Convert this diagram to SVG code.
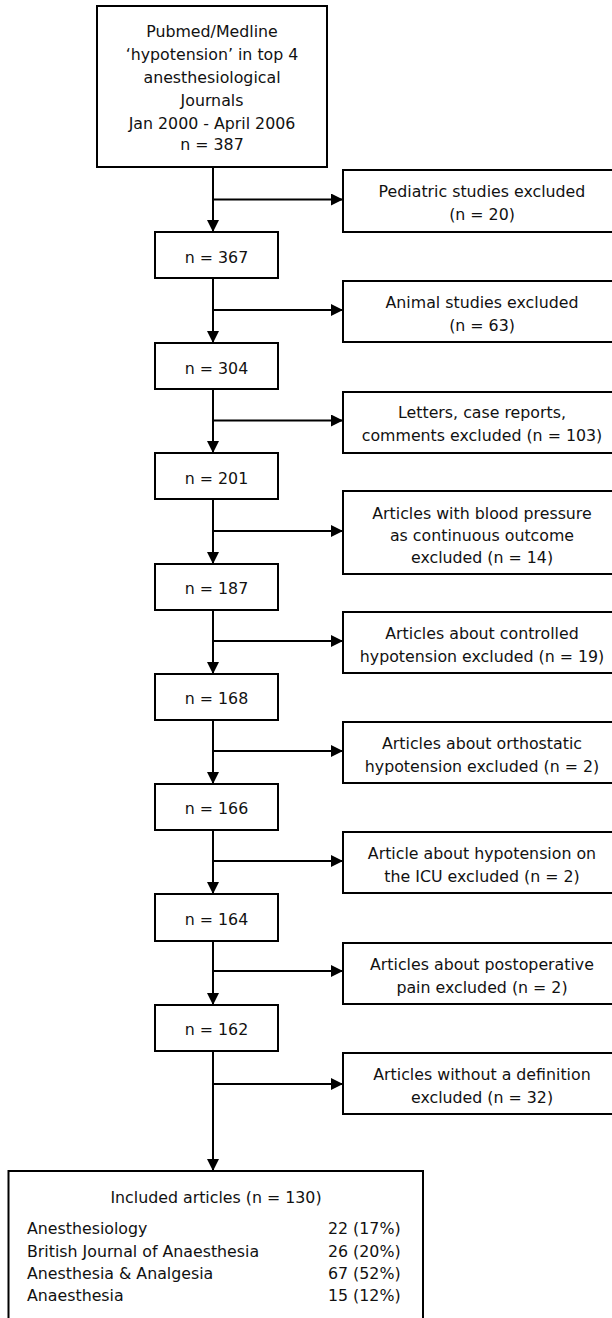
<svg xmlns="http://www.w3.org/2000/svg" width="612" height="1318" viewBox="0 0 612 1318">
<style>
.box{fill:#fff;stroke:#000;stroke-width:2}
.t{font-family:"DejaVu Sans",sans-serif;font-size:15.8px;fill:#111;text-anchor:middle}
.l{font-family:"DejaVu Sans",sans-serif;font-size:15.8px;fill:#111;text-anchor:start}
.c{fill:none;stroke:#000;stroke-width:2}
</style>
<defs>
<marker id="ah" markerUnits="userSpaceOnUse" markerWidth="12" markerHeight="12" refX="12" refY="6" orient="auto">
<path d="M0,0 L12,6 L0,12 z" fill="#000"/>
</marker>
</defs>
<rect width="612" height="1318" fill="#fff"/>
<g id="connectors">
<line class="c" x1="213" y1="167" x2="213" y2="232" marker-end="url(#ah)"/>
<line class="c" x1="213" y1="199.5" x2="343" y2="199.5" marker-end="url(#ah)"/>
<line class="c" x1="213" y1="278" x2="213" y2="343" marker-end="url(#ah)"/>
<line class="c" x1="213" y1="310" x2="343" y2="310" marker-end="url(#ah)"/>
<line class="c" x1="213" y1="388" x2="213" y2="453" marker-end="url(#ah)"/>
<line class="c" x1="213" y1="420.5" x2="343" y2="420.5" marker-end="url(#ah)"/>
<line class="c" x1="213" y1="499" x2="213" y2="564" marker-end="url(#ah)"/>
<line class="c" x1="213" y1="531" x2="343" y2="531" marker-end="url(#ah)"/>
<line class="c" x1="213" y1="609" x2="213" y2="674" marker-end="url(#ah)"/>
<line class="c" x1="213" y1="641" x2="343" y2="641" marker-end="url(#ah)"/>
<line class="c" x1="213" y1="720" x2="213" y2="784" marker-end="url(#ah)"/>
<line class="c" x1="213" y1="751" x2="343" y2="751" marker-end="url(#ah)"/>
<line class="c" x1="213" y1="830" x2="213" y2="894" marker-end="url(#ah)"/>
<line class="c" x1="213" y1="861" x2="343" y2="861" marker-end="url(#ah)"/>
<line class="c" x1="213" y1="941" x2="213" y2="1005" marker-end="url(#ah)"/>
<line class="c" x1="213" y1="971" x2="343" y2="971" marker-end="url(#ah)"/>
<line class="c" x1="213" y1="1051" x2="213" y2="1171" marker-end="url(#ah)"/>
<line class="c" x1="213" y1="1084" x2="343" y2="1084" marker-end="url(#ah)"/>
</g>
<g id="source">
<rect class="box" x="97" y="6" width="230" height="161"/>
<text class="t" x="212" y="37">Pubmed/Medline</text>
<text class="t" x="212" y="60">‘hypotension’ in top 4</text>
<text class="t" x="212" y="83">anesthesiological</text>
<text class="t" x="212" y="106">Journals</text>
<text class="t" x="212" y="128.5">Jan 2000 - April 2006</text>
<text class="t" x="212" y="150">n = 387</text>
</g>
<g id="n367"><rect class="box" x="155" y="232" width="123" height="46"/><text class="t" x="216.5" y="262.5">n = 367</text></g>
<g id="n304"><rect class="box" x="155" y="343" width="123" height="46"/><text class="t" x="216.5" y="373.5">n = 304</text></g>
<g id="n201"><rect class="box" x="155" y="453" width="123" height="46"/><text class="t" x="216.5" y="483.5">n = 201</text></g>
<g id="n187"><rect class="box" x="155" y="564" width="123" height="46"/><text class="t" x="216.5" y="594">n = 187</text></g>
<g id="n168"><rect class="box" x="155" y="674" width="123" height="46"/><text class="t" x="216.5" y="704">n = 168</text></g>
<g id="n166"><rect class="box" x="155" y="784" width="123" height="46"/><text class="t" x="216.5" y="814">n = 166</text></g>
<g id="n164"><rect class="box" x="155" y="894" width="123" height="47"/><text class="t" x="216.5" y="924.5">n = 164</text></g>
<g id="n162"><rect class="box" x="155" y="1005" width="123" height="46"/><text class="t" x="216.5" y="1035">n = 162</text></g>
<g id="ex-pediatric"><rect class="box" x="343" y="170" width="280" height="62"/>
<text class="t" x="482" y="197">Pediatric studies excluded</text><text class="t" x="482" y="220">(n = 20)</text></g>
<g id="ex-animal"><rect class="box" x="343" y="281" width="280" height="61"/>
<text class="t" x="482" y="308">Animal studies excluded</text><text class="t" x="482" y="331">(n = 63)</text></g>
<g id="ex-letters"><rect class="box" x="343" y="392" width="280" height="61"/>
<text class="t" x="482" y="418">Letters, case reports,</text><text class="t" x="482" y="441">comments excluded (n = 103)</text></g>
<g id="ex-bp"><rect class="box" x="343" y="491" width="280" height="83"/>
<text class="t" x="482" y="518.5">Articles with blood pressure</text><text class="t" x="482" y="541">as continuous outcome</text><text class="t" x="482" y="563">excluded (n = 14)</text></g>
<g id="ex-controlled"><rect class="box" x="343" y="612" width="280" height="61"/>
<text class="t" x="482" y="639">Articles about controlled</text><text class="t" x="482" y="661.5">hypotension excluded (n = 19)</text></g>
<g id="ex-orthostatic"><rect class="box" x="343" y="722" width="280" height="61"/>
<text class="t" x="482" y="749">Articles about orthostatic</text><text class="t" x="482" y="771.5">hypotension excluded (n = 2)</text></g>
<g id="ex-icu"><rect class="box" x="343" y="832" width="280" height="61"/>
<text class="t" x="482" y="859">Article about hypotension on</text><text class="t" x="482" y="881.5">the ICU excluded (n = 2)</text></g>
<g id="ex-postop"><rect class="box" x="343" y="943" width="280" height="61"/>
<text class="t" x="482" y="970">Articles about postoperative</text><text class="t" x="482" y="992.5">pain excluded (n = 2)</text></g>
<g id="ex-nodef"><rect class="box" x="343" y="1053" width="280" height="61"/>
<text class="t" x="482" y="1080">Articles without a definition</text><text class="t" x="482" y="1102.5">excluded (n = 32)</text></g>
<g id="included">
<rect class="box" x="8.5" y="1171" width="414.5" height="160"/>
<text class="t" x="216" y="1203">Included articles (n = 130)</text>
<text class="l" x="27" y="1234">Anesthesiology</text><text class="l" x="328" y="1234">22 (17%)</text>
<text class="l" x="27" y="1256.5">British Journal of Anaesthesia</text><text class="l" x="328" y="1256.5">26 (20%)</text>
<text class="l" x="27" y="1278.5">Anesthesia &amp; Analgesia</text><text class="l" x="328" y="1278.5">67 (52%)</text>
<text class="l" x="27" y="1301">Anaesthesia</text><text class="l" x="328" y="1301">15 (12%)</text>
</g>
</svg>
